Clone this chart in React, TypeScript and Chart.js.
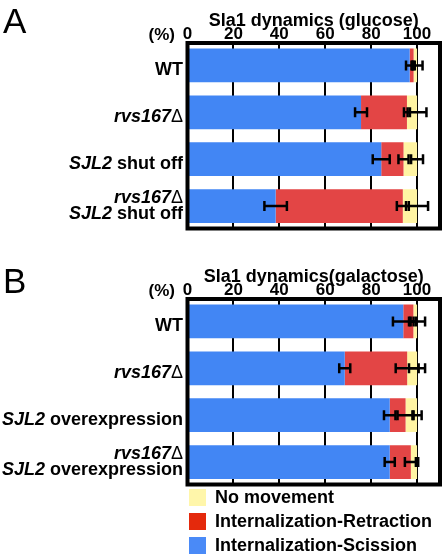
import React, { useEffect, useRef } from "react";
import { Chart, registerables } from "chart.js";

Chart.register(...registerables);

// ---------- data ----------
const seriesNames = ["Internalization-Scission", "Internalization-Retraction", "No movement"];
const seriesColors = ["#4286f4", "#e34545", "#fff4a3"];
const legendColors = ["#4a8af7", "#e4290c", "#fff6aa"];

const axisMax = 110;
const tickStep = 20;

const titleA = "Sla1 dynamics (glucose)";
const categoriesA = ["WT", "*rvs167*Δ", "*SJL2* shut off", "*rvs167*Δ\n*SJL2* shut off"];
const scissionA = [96.8, 75.6, 84.4, 38.4];
const retractionA = [1.7, 20.0, 9.7, 55.4];
const noMovementA = [1.5, 4.4, 5.9, 6.2];
const scissionErrA = [1.6, 2.6, 3.7, 4.9];
const retractionErrA = [0.5, 1.3, 2.2, 2.6];
const noMovementErrA = [2.4, 4.1, 2.6, 4.8];

const titleB = "Sla1 dynamics(galactose)";
const categoriesB = ["WT", "*rvs167*Δ", "*SJL2* overexpression", "*rvs167*Δ\n*SJL2* overexpression"];
const scissionB = [94.0, 68.5, 88.1, 88.1];
const retractionB = [4.4, 27.2, 6.9, 9.2];
const noMovementB = [1.6, 4.3, 5.0, 2.7];
const scissionErrB = [4.5, 2.4, 2.5, 2.2];
const retractionErrB = [1.2, 5.0, 3.5, 2.6];
const noMovementErrB = [3.5, 3.5, 2.0, 0.5];

// ---------- drawing helpers ----------
const FAMILY = '"Liberation Sans", Arial, Helvetica, sans-serif';

type Run = { t: string; italic: boolean; bold: boolean };

function parseLine(line: string): Run[] {
  const runs: Run[] = [];
  line.split("*").forEach((part, idx) => {
    const italic = idx % 2 === 1;
    let buf = "";
    for (const ch of part) {
      if (ch === "Δ") {
        if (buf) runs.push({ t: buf, italic, bold: true });
        buf = "";
        runs.push({ t: ch, italic: false, bold: false });
      } else buf += ch;
    }
    if (buf) runs.push({ t: buf, italic, bold: true });
  });
  return runs;
}

function runFont(r: Run, size: number) {
  return `${r.italic ? "italic " : ""}${r.bold ? "bold " : ""}${size}px ${FAMILY}`;
}

function drawRich(ctx: CanvasRenderingContext2D, line: string, xRight: number, baseline: number, size: number) {
  const runs = parseLine(line);
  let total = 0;
  const widths = runs.map((r) => {
    ctx.font = runFont(r, size);
    const w = ctx.measureText(r.t).width;
    total += w;
    return w;
  });
  let x = xRight - total;
  ctx.textAlign = "left";
  ctx.textBaseline = "alphabetic";
  runs.forEach((r, i) => {
    ctx.font = runFont(r, size);
    ctx.fillText(r.t, x, baseline);
    x += widths[i];
  });
}

type PanelProps = {
  top: number;
  letter: string;
  letterBaseline: number;
  title: string;
  categories: string[];
  segs: number[][];
  errs: number[][];
};

function Panel({ top, letter, letterBaseline, title, categories, segs, errs }: PanelProps) {
  const ref = useRef<HTMLCanvasElement>(null);

  useEffect(() => {
    const canvas = ref.current!;
    const decor = {
      id: "panelDecor",
      afterDatasetsDraw(chart: any) {
        const { ctx, chartArea: ca, scales } = chart;
        const x = scales.x;
        const y = scales.y;
        ctx.save();
        // error bars at each cumulative segment end
        ctx.strokeStyle = "#000";
        ctx.lineWidth = 2.5;
        categories.forEach((_, i) => {
          const yc = y.getPixelForValue(i);
          let cum = 0;
          segs.forEach((seg, k) => {
            cum += seg[i];
            const e = errs[k][i];
            const x1 = x.getPixelForValue(cum - e);
            const x2 = x.getPixelForValue(cum + e);
            ctx.beginPath();
            ctx.moveTo(x1, yc);
            ctx.lineTo(x2, yc);
            ctx.moveTo(x1, yc - 5);
            ctx.lineTo(x1, yc + 5);
            ctx.moveTo(x2, yc - 5);
            ctx.lineTo(x2, yc + 5);
            ctx.stroke();
          });
        });
        // plot frame
        ctx.lineWidth = 4;
        ctx.strokeRect(ca.left, ca.top, ca.right - ca.left, ca.bottom - ca.top);
        // category labels
        ctx.fillStyle = "#000";
        categories.forEach((cat, i) => {
          const yc = y.getPixelForValue(i);
          const lines = cat.split("\n");
          if (lines.length === 1) {
            drawRich(ctx, lines[0], ca.left - 4.5, yc + 10, 18);
          } else {
            drawRich(ctx, lines[0], ca.left - 4.5, yc - 3, 18);
            drawRich(ctx, lines[1], ca.left - 4.5, yc + 12.5, 18);
          }
        });
        // title
        ctx.font = `bold 18px ${FAMILY}`;
        ctx.textAlign = "center";
        ctx.textBaseline = "alphabetic";
        ctx.fillText(title, (ca.left + ca.right) / 2, ca.top - 17);
        // unit label
        ctx.font = `bold 17px ${FAMILY}`;
        ctx.textAlign = "right";
        ctx.fillText("(%)", x.getPixelForValue(0) - 12.5, ca.top - 3.5);
        // panel letter
        ctx.font = `35px ${FAMILY}`;
        ctx.textAlign = "left";
        ctx.fillText(letter, 3, letterBaseline);
        ctx.restore();
      },
    };

    const chart = new Chart(canvas, {
      type: "bar",
      data: {
        datasets: seriesNames.map((name, k) => ({
          label: name,
          data: segs[k].map((v, i) => ({ x: v, y: i })),
          backgroundColor: seriesColors[k],
          borderWidth: 0,
          barPercentage: 0.72,
          categoryPercentage: 1,
        })),
      },
      options: {
        indexAxis: "y",
        responsive: false,
        animation: false,
        events: [],
        layout: { padding: { left: 187.5, right: 4, top: 0, bottom: 5.5 } },
        plugins: {
          legend: { display: false },
          tooltip: { enabled: false },
          title: { display: false },
        },
        scales: {
          x: {
            type: "linear",
            position: "top",
            stacked: true,
            min: 0,
            max: axisMax,
            ticks: {
              stepSize: tickStep,
              includeBounds: false,
              padding: -1.5,
              color: "#000",
              font: { family: FAMILY, size: 17, weight: "bold" },
            },
            grid: { color: "#000", lineWidth: 2, drawTicks: false },
            border: { display: false },
            afterFit: (s: any) => {
              s.height = 43;
            },
          },
          y: {
            type: "linear",
            reverse: true,
            stacked: true,
            offset: false,
            grid: { offset: false, display: false },
            min: -0.48,
            max: categories.length - 1 + 0.48,
            display: false,
            afterBuildTicks: (s: any) => {
              s.ticks = categories.map((_, i) => ({ value: i }));
            },
          },
        },
      } as any,
      plugins: [decor],
    });
    return () => chart.destroy();
  }, []);

  return (
    <canvas
      ref={ref}
      width={444}
      height={234}
      style={{ position: "absolute", left: 0, top, width: 444, height: 234 }}
    />
  );
}

export default function App() {
  const legendOrder = [2, 1, 0];
  return (
    <div
      style={{
        position: "absolute",
        left: 0,
        top: 0,
        width: 444,
        height: 555,
        background: "#fff",
        overflow: "hidden",
        fontFamily: FAMILY,
      }}
    >
      <Panel
        top={0}
        letter="A"
        letterBaseline={33}
        title={titleA}
        categories={categoriesA}
        segs={[scissionA, retractionA, noMovementA]}
        errs={[scissionErrA, retractionErrA, noMovementErrA]}
      />
      <Panel
        top={256}
        letter="B"
        letterBaseline={37}
        title={titleB}
        categories={categoriesB}
        segs={[scissionB, retractionB, noMovementB]}
        errs={[scissionErrB, retractionErrB, noMovementErrB]}
      />
      <div style={{ position: "absolute", left: 189, top: 489 }}>
        {legendOrder.map((k) => (
          <div key={k} style={{ display: "flex", alignItems: "center", height: 17, marginBottom: 7 }}>
            <span style={{ display: "inline-block", width: 17, height: 17, background: legendColors[k] }} />
            <span
              style={{
                marginLeft: 9,
                font: `bold 18px ${FAMILY}`,
                lineHeight: "17px",
                color: "#000",
                whiteSpace: "nowrap",
              }}
            >
              {seriesNames[k]}
            </span>
          </div>
        ))}
      </div>
    </div>
  );
}
